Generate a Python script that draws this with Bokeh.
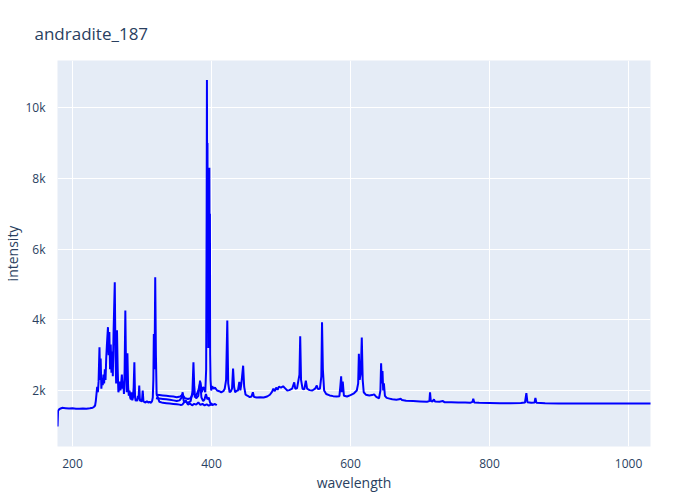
from bokeh.plotting import figure
from bokeh.models import FixedTicker, Range1d
from bokeh.embed import file_html
from bokeh.resources import INLINE

# ---- data ----
seg1_wl = [178.5, 179.2, 181, 183, 185, 190, 195, 200, 205, 210, 215, 220, 225, 229, 231, 232.5,
           233.5, 234.5, 235.5, 236.5, 237.5, 238.8, 239.8, 240.5, 241.5, 242.5, 243.5, 244.5, 245.5,
           246.5, 247.5, 248.5, 249.5, 251, 252, 253, 254, 255, 256, 257, 258, 259, 260.8, 261.8,
           262.8, 264, 265, 266, 267, 268, 269, 270, 271, 272, 273, 274, 275, 276, 277, 278, 279,
           280, 281, 282, 283, 284, 285, 286, 287, 288, 289, 290, 291, 292, 293, 294, 295, 296,
           297, 298, 299, 300, 301, 302, 303, 305, 307, 309, 311, 313, 314.5, 315.5, 316.3, 317,
           318, 319, 320, 321, 325, 330, 335, 340, 345, 350, 354, 356, 358, 360, 363, 366, 369,
           372, 375, 378, 381, 384, 387, 390, 393, 396, 399, 402, 405, 407.5]
seg1_int = [980, 1430, 1470, 1490, 1510, 1500, 1490, 1495, 1485, 1480, 1490, 1485, 1495, 1510, 1540,
            1575, 1700, 1900, 2100, 1950, 2250, 3220, 2300, 2900, 2050, 2350, 2150, 2450, 2200,
            2600, 2300, 2900, 3300, 3790, 3000, 3650, 2600, 3300, 2500, 3100, 2400, 3600, 5060,
            3000, 2200, 3700, 2600, 1950, 2050, 2250, 2000, 2200, 2450, 2050, 2250, 1900, 2600,
            4260, 2600, 1950, 3050, 2100, 1850, 2000, 1800, 1750, 1950, 1720, 1800, 2100, 2800,
            1800, 1700, 1760, 1700, 1850, 1750, 2140, 1700, 1760, 1680, 1720, 2000, 1700, 1680,
            1660, 1700, 1660, 1680, 1650, 1700, 1800, 2300, 3600, 2600, 5200, 3000, 1900, 1680,
            1650, 1640, 1630, 1620, 1610, 1600, 1590, 1600, 1650, 1720, 1600, 1630, 1580, 1620,
            1600, 1660, 1590, 1620, 1580, 1610, 1570, 1600, 1590, 1620, 1580, 1600, 1580]

seg2_wl = [320, 325, 330, 335, 340, 345, 350, 354, 357, 358.5, 360, 363, 366, 370, 372.5, 374,
           375.5, 378, 381, 383.5, 385.5, 388, 390, 392, 394, 396, 398, 400, 402]
seg2_int = [1780, 1770, 1760, 1750, 1740, 1720, 1700, 1720, 1800, 1950, 1700, 1680, 1650, 1700,
            1950, 2800, 1900, 1780, 1850, 2280, 1800, 1700, 1750, 1900, 1750, 1800, 1650, 1620, 1600]

seg3_wl = [320, 325, 330, 335, 340, 345, 350, 355, 358, 362, 366, 370, 373, 374.3, 376, 379,
           381, 384, 386, 388, 389.5, 391, 392.3, 393.0, 393.4, 393.8, 394.2, 394.6, 395.0, 395.4,
           395.8, 396.2, 396.6, 396.9, 397.3, 397.7, 398.1, 398.6, 399.5, 401, 403, 405, 408, 411,
           414, 417, 419, 421, 422.7, 424, 426, 428, 429.5, 431, 432.5, 434, 436, 438, 440, 441.5,
           443, 445.5, 447, 449, 452, 455, 457.5, 459.5, 461, 465, 470, 475, 480, 484, 487, 489,
           491, 493, 495, 497, 500, 503, 506, 509, 512, 516, 519, 520.5, 523, 526.5, 527.6, 528.8,
           531, 533.5, 535.7, 537.5, 541, 545, 549, 551.5, 553, 556, 558, 559, 560.2, 562, 565,
           570, 575, 580, 584, 585.5, 586.5, 587.5, 588.8, 590.5, 595, 600, 605, 609, 611, 612,
           613.2, 614.8, 616.2, 617.5, 619, 622, 627, 631, 634, 637, 641, 643, 644, 645, 646, 647,
           648, 649.5, 652, 656, 660, 666, 670, 672, 674, 680, 690, 700, 710, 713.5, 714.4, 715.5,
           718, 720, 721.5, 728, 733, 735, 745, 755, 765, 772, 775.5, 776.6, 778, 785, 800, 815,
           830, 845, 851, 853, 854.5, 860, 864.8, 866, 867.5, 880, 900, 950, 1000, 1040]
seg3_int = [1880, 1870, 1860, 1850, 1840, 1830, 1810, 1830, 1880, 1780, 1760, 1780, 1900, 2300,
            1800, 1900, 2000, 2230, 1950, 2100, 2050, 1950, 2600, 7000, 10780, 6500, 9000, 4200,
            7500, 3200, 6000, 3800, 7800, 8300, 5200, 7000, 3000, 2300, 2000, 2120, 2050, 2080,
            2000, 1980, 1950, 1980, 2050, 2300, 3980, 2200, 1950, 1980, 2050, 2620, 2100, 1950,
            1990, 2000, 2240, 2000, 2200, 2700, 2100, 1880, 1850, 1810, 1830, 1950, 1820, 1800,
            1810, 1800, 1830, 1880, 1960, 2050, 1980, 2080, 2020, 2110, 2080, 2120, 2060, 2000,
            2010, 2050, 2230, 2050, 2060, 2450, 3530, 2300, 2050, 2030, 2280, 2050, 2010, 2000,
            2050, 2140, 2040, 2050, 2400, 3930, 2600, 2000, 1900, 1860, 1840, 1830, 1840, 2150,
            2400, 1950, 2250, 1850, 1830, 1870, 1920, 2000, 2200, 3040, 2300, 2500, 3500, 2300,
            1950, 1880, 1860, 1870, 1890, 1820, 1780, 2000, 2770, 2200, 2550, 2000, 2200, 1850,
            1790, 1770, 1750, 1740, 1750, 1770, 1730, 1710, 1700, 1690, 1680, 1700, 1950, 1700,
            1690, 1750, 1690, 1680, 1700, 1670, 1665, 1660, 1660, 1650, 1680, 1765, 1660, 1650,
            1645, 1640, 1640, 1645, 1660, 1925, 1670, 1650, 1660, 1790, 1650, 1640, 1635, 1635,
            1635, 1635]

x_ticks = [200, 400, 600, 800, 1000]
y_ticks = [2000, 4000, 6000, 8000, 10000]
y_tick_labels = ["2k", "4k", "6k", "8k", "10k"]

FONT = "Open Sans"
TXT = "#2a3f5f"

p = figure(frame_width=593, frame_height=386, output_backend="svg", toolbar_location=None,
           x_range=Range1d(178.4, 1031.6), y_range=Range1d(416, 11330),
           min_border_left=49, min_border_right=34, min_border_top=60, min_border_bottom=30,
           background_fill_color="#E5ECF6", border_fill_color="white",
           title="andradite_187")
p.outline_line_color = None

p.title.text_font = FONT
p.title.text_font_size = "17px"
p.title.text_font_style = "normal"
p.title.text_color = TXT
p.title.offset = -23
p.title.standoff = 28
p.title.vertical_align = "top"

p.multi_line(xs=[seg1_wl, seg2_wl, seg3_wl], ys=[seg1_int, seg2_int, seg3_int],
             line_color="#0000ff", line_width=2)

p.xaxis.ticker = FixedTicker(ticks=x_ticks)
p.yaxis.ticker = FixedTicker(ticks=y_ticks)
p.yaxis.major_label_overrides = {t: l for t, l in zip(y_ticks, y_tick_labels)}
p.xaxis.axis_label = "wavelength"
p.yaxis.axis_label = "intensity"

for ax in (p.xaxis[0], p.yaxis[0]):
    ax.axis_line_color = None
    ax.major_tick_line_color = None
    ax.minor_tick_line_color = None
    ax.major_label_text_font = FONT
    ax.major_label_text_font_size = "12px"
    ax.major_label_text_color = TXT
    ax.axis_label_text_font = FONT
    ax.axis_label_text_font_size = "14px"
    ax.axis_label_text_font_style = "normal"
    ax.axis_label_text_color = TXT
    ax.major_label_standoff = 6

p.xaxis.axis_label_standoff = 2
p.yaxis.axis_label_standoff = 0

p.grid.grid_line_color = "white"
p.grid.grid_line_width = 1

open("out.html", "w").write(file_html(p, INLINE))
